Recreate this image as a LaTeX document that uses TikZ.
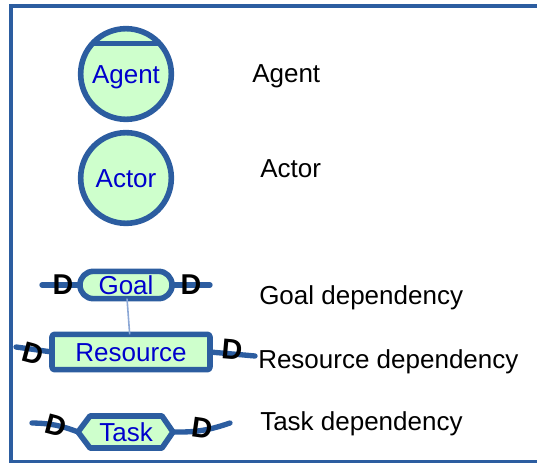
\documentclass[tikz,border=0pt]{standalone}
\usepackage{fontspec}
\setmainfont{Liberation Sans}
\usetikzlibrary{positioning, calc, shapes}
\definecolor{istarblue}{RGB}{44,93,160}
\definecolor{istarfill}{RGB}{206,255,204}
\definecolor{istartext}{RGB}{0,0,204}
\definecolor{tieblue}{RGB}{140,168,214}
\begin{document}
\begin{tikzpicture}[x=0.75pt, y=-0.75pt,
    every node/.style={font=\fontsize{19.5}{22}\selectfont},
    elem/.style={draw=istarblue, line width=4.2pt, fill=istarfill, text=istartext,
      inner sep=0pt, outer sep=0pt, text height=14pt, text depth=0pt, line join=round},
    actorc/.style={elem, circle, minimum size=68pt},
    dep/.style={draw=istarblue, line width=4pt, line cap=round},
    dlab/.style={font=\fontsize{21.5}{24}\selectfont\bfseries, inner sep=0pt,
      text height=15.4pt, text depth=0pt},
    legend/.style={anchor=base west, inner sep=0pt}]
  \useasboundingbox (0,0) rectangle (537,463);
  \clip (0,0) rectangle (537,463);
  \draw[istarblue, line width=3pt] (11,6) rectangle (600,462);

  % actors
  \node[actorc] (agent) at (126,74) {Agent};
  \draw[istarblue, line width=4.2pt] (agent.42) -- (agent.138);
  \node[actorc] (actor) at (126,178) {Actor};

  % dependums
  \node[elem, rounded corners=10pt, minimum width=69pt, minimum height=20.5pt] (goal) at (126,285) {Goal};
  \node[elem, rounded corners=2pt, minimum width=118.5pt, minimum height=26.5pt] (resource) at (131,352) {Resource};
  \draw[tieblue, line width=1.2pt] (goal) -- (resource);
  \foreach \n/\x/\y in {tw/78/432, tnw/90/416, tne/162/416, te/173/432, tse/162/448, tsw/90/448}
    \coordinate (\n) at (\x,\y);
  \draw[elem] (tw) -- (tnw) -- (tne) -- (te) -- (tse) -- (tsw) -- cycle;
  \node[text=istartext, inner sep=0pt, text height=14pt, text depth=0pt] (task) at (126,432) {Task};

  % dependency links
  \coordinate (gl) at (42,285);
  \coordinate (gr) at (210,285);
  \coordinate (rl) at (16,347);
  \coordinate (rr) at (255,356);
  \coordinate (tl) at (32,423);
  \coordinate (tr) at (230,423);
  \draw[dep] (gl) -- (goal.west);
  \draw[dep] (goal.east) -- (gr);
  \draw[dep] (rl) -- (resource.west);
  \draw[dep] (resource.east) -- (rr);
  \draw[dep] (tl) to[bend left=10] (tw);
  \draw[dep] (te) to[bend right=10] (tr);
  \node[dlab] (gd1) at (63,284) {D};
  \node[dlab] (gd2) at (191,284) {D};
  \node[dlab, rotate=-15] (rd1) at (33,353) {D};
  \node[dlab, rotate=-5] (rd2) at (232,349) {D};
  \node[dlab, rotate=-15] (td1) at (56,425) {D};
  \node[dlab, rotate=-8] (td2) at (202,428) {D};

  % legend
  \node[legend] (lagent) at (252,83) {Agent};
  \node[legend] (lactor) at (260,178) {Actor};
  \node[legend] (lgoal) at (259,305) {Goal dependency};
  \node[legend] (lres) at (258,369) {Resource dependency};
  \node[legend] (ltask) at (260,431) {Task dependency};
\end{tikzpicture}
\end{document}
